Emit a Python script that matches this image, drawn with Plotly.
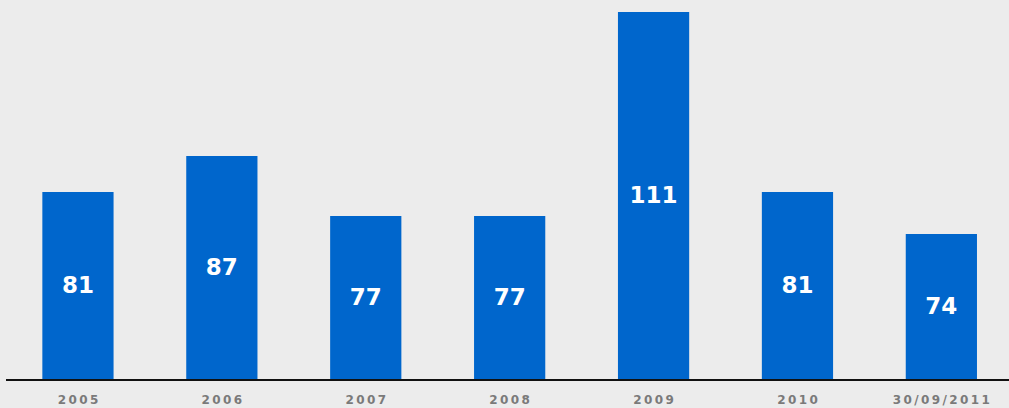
import plotly.graph_objects as go

categories = ["2005", "2006", "2007", "2008", "2009", "2010", "30/09/2011"]
values = [81, 87, 77, 77, 111, 81, 74]

Y_MIN = 49.8
Y_MAX = 113.0

# letter-spaced tick labels
tick_labels = ["\u2009".join(list(c)) for c in categories]

fig = go.Figure()
fig.add_trace(go.Bar(
    x=list(range(len(categories))),
    y=[v - Y_MIN for v in values],
    base=Y_MIN,
    width=0.495,
    marker=dict(color="#0066cc", line=dict(width=0)),
    text=[str(v) for v in values],
    textposition="inside",
    insidetextanchor="middle",
    textangle=0,
    textfont=dict(family="DejaVu Sans", size=23, color="white", weight="bold"),
))

fig.update_layout(
    width=1009, height=408,
    margin=dict(l=6, r=0, t=0, b=29),
    paper_bgcolor="#ececec",
    plot_bgcolor="rgba(0,0,0,0)",
    showlegend=False,
    uniformtext=dict(minsize=10, mode="show"),
    xaxis=dict(
        range=[-0.5, 6.47],
        tickmode="array",
        tickvals=list(range(len(categories))),
        ticktext=tick_labels,
        tickfont=dict(family="DejaVu Sans", size=12, color="#7a7a7a", weight="bold"),
        showgrid=False, zeroline=False,
        showline=True, linecolor="#111111", linewidth=2,
        ticks="", ticklabelstandoff=9,
    ),
    yaxis=dict(
        range=[Y_MIN, Y_MAX],
        showgrid=False, zeroline=False, showline=False,
        showticklabels=False, ticks="",
    ),
)

fig.write_html("out.html")
